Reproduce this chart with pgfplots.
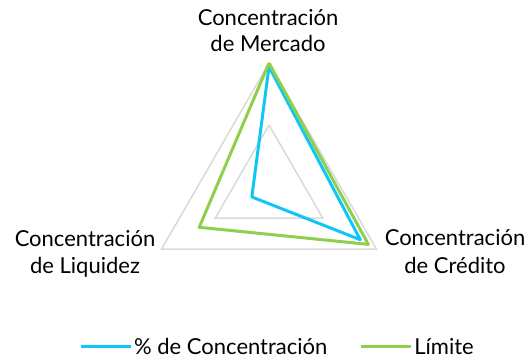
\documentclass[border=0pt]{standalone}
\usepackage{pgfplots}
\pgfplotsset{compat=1.18}
\usepgfplotslibrary{polar}
\usepackage{fontspec}
\setmainfont{Lato}
\definecolor{serA}{HTML}{10C6F4}
\definecolor{serB}{HTML}{8ED04E}
\definecolor{gridc}{HTML}{D9D9D9}
\begin{document}
\begin{tikzpicture}[x=1bp,y=1bp]
\useasboundingbox (0,0) rectangle (526,360);
\begin{polaraxis}[
  at={(269bp,173bp)}, anchor=center,
  width=248bp, height=248bp, scale only axis,
  ymin=0, ymax=1,
  hide axis, clip=false,
  legend style={draw=none, at={(0.534,-0.145)}, anchor=center,
    font=\fontsize{22bp}{26bp}\selectfont, legend columns=-1,
    /tikz/every even column/.append style={column sep=30bp},
    inner sep=0pt},
  legend image code/.code={\draw[#1] (0bp,0bp) -- (50bp,0bp);},
]
\addplot[gridc, line width=1.5bp, forget plot] coordinates {(90,1) (210,1) (330,1) (90,1)};
\addplot[gridc, line width=1.5bp, forget plot] coordinates {(90,0.5) (210,0.5) (330,0.5) (90,0.5)};
\addplot[serA, line width=3bp, line join=round] coordinates {(90,0.97) (210,0.16) (330,0.85) (90,0.97)};
\addlegendentry{\% de Concentración}
\addplot[serB, line width=3bp, line join=round] coordinates {(90,1.0) (210,0.65) (330,0.925) (90,1.0)};
\addlegendentry{Límite}
\end{polaraxis}
\begin{scope}[every node/.style={font=\fontsize{22bp}{26bp}\selectfont, inner sep=0pt, anchor=base}]
\node at (268,335) {Concentración};
\node at (268,309) {de Mercado};
\node at (85,114) {Concentración};
\node at (85,87) {de Liquidez};
\node at (455,115) {Concentración};
\node at (455,87) {de Crédito};
\end{scope}
\end{tikzpicture}
\end{document}
